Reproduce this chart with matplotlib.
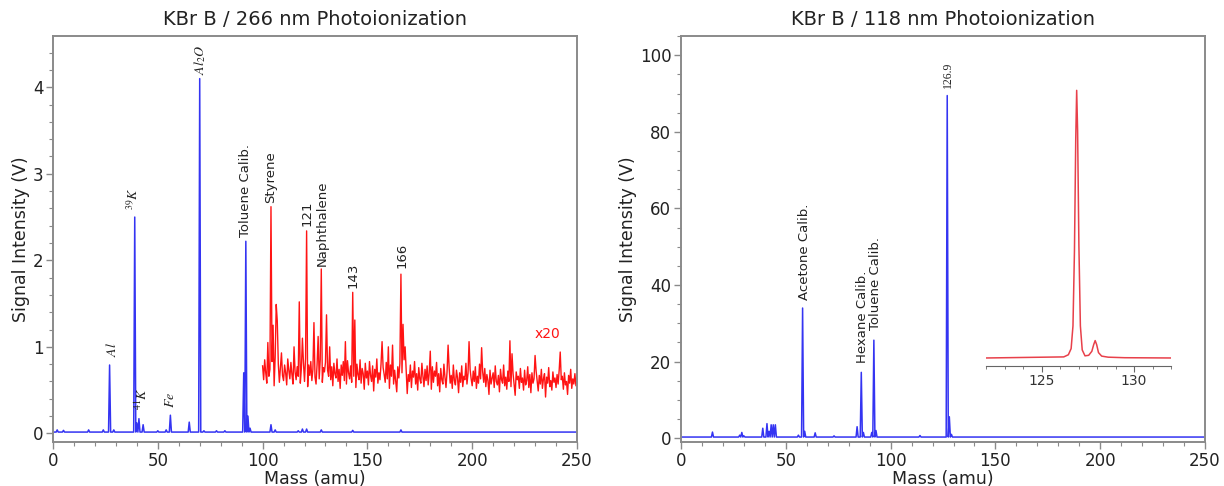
import matplotlib
matplotlib.use("Agg")
import matplotlib.pyplot as plt
import numpy as np
from matplotlib.ticker import MultipleLocator

plt.rcParams["mathtext.fontset"] = "stix"

BLUE = "#3434f2"
RED = "#ff1414"
INSET_RED = "#e8404a"
FRAME = "#8a8a8a"

# ---- 266 nm spectrum (left) ----
mass_step = 0.5
left_baseline = 0.015
left_peak_mass = [2, 5, 17, 24, 27, 29, 39, 40, 41, 43, 50, 54, 56, 65, 70, 72,
                  78, 82, 91, 92, 93, 94, 104, 106, 117, 119, 121, 128, 143, 166]
left_peak_height = [0.04, 0.035, 0.04, 0.04, 0.79, 0.04, 2.50, 0.12, 0.17, 0.10,
                    0.03, 0.04, 0.21, 0.13, 4.10, 0.03, 0.03, 0.03, 0.70, 2.22,
                    0.20, 0.06, 0.10, 0.04, 0.03, 0.05, 0.05, 0.04, 0.035, 0.04]

# x20 trace, already scaled and offset (display units), 100-250 amu every 0.5
x20_start = 100.0
x20_noise = [
    0.78, 0.62, 0.85, 0.70, 0.58, 0.91, 0.66, 0.74, 0.60, 0.83, 0.69, 0.55, 0.88, 0.72, 0.64, 0.80, 0.59, 0.76, 0.93, 0.67,
    0.61, 0.79, 0.70, 0.56, 0.86, 0.73, 0.63, 0.82, 0.68, 0.57, 0.90, 0.71, 0.62, 0.77, 0.66, 0.84, 0.58, 0.75, 0.69, 0.81,
    0.60, 0.87, 0.72, 0.54, 0.79, 0.67, 0.83, 0.61, 0.74, 0.89, 0.65, 0.57, 0.80, 0.70, 0.63, 0.85, 0.68, 0.59, 0.76, 0.71,
    0.82, 0.58, 0.73, 0.66, 0.88, 0.62, 0.77, 0.55, 0.81, 0.69, 0.64, 0.86, 0.60, 0.74, 0.52, 0.79, 0.67, 0.83, 0.61, 0.72,
    0.57, 0.84, 0.70, 0.63, 0.78, 0.59, 0.87, 0.66, 0.74, 0.53, 0.80, 0.68, 0.62, 0.85, 0.58, 0.75, 0.69, 0.51, 0.81, 0.64,
    0.72, 0.56, 0.83, 0.67, 0.60, 0.78, 0.49, 0.74, 0.65, 0.86, 0.58, 0.70, 0.62, 0.80, 0.54, 0.76, 0.68, 0.59, 0.82, 0.63,
    0.71, 0.52, 0.79, 0.66, 0.84, 0.57, 0.73, 0.61, 0.48, 0.77, 0.64, 0.81, 0.55, 0.70, 0.62, 0.85, 0.58, 0.74, 0.46, 0.68,
    0.60, 0.79, 0.53, 0.72, 0.65, 0.83, 0.57, 0.69, 0.50, 0.76, 0.63, 0.58, 0.81, 0.66, 0.54, 0.74, 0.61, 0.78, 0.56, 0.70,
    0.64, 0.51, 0.77, 0.59, 0.72, 0.66, 0.82, 0.55, 0.69, 0.48, 0.75, 0.62, 0.57, 0.80, 0.65, 0.53, 0.71, 0.60, 0.76, 0.58,
    0.67, 0.52, 0.79, 0.61, 0.56, 0.73, 0.64, 0.47, 0.70, 0.59, 0.78, 0.54, 0.66, 0.62, 0.81, 0.57, 0.69, 0.50, 0.74, 0.63,
    0.55, 0.72, 0.60, 0.77, 0.52, 0.66, 0.58, 0.80, 0.63, 0.49, 0.71, 0.59, 0.75, 0.54, 0.68, 0.61, 0.45, 0.73, 0.57, 0.64,
    0.70, 0.53, 0.78, 0.60, 0.56, 0.67, 0.48, 0.74, 0.62, 0.58, 0.79, 0.55, 0.65, 0.51, 0.72, 0.60, 0.76, 0.54, 0.63, 0.69,
    0.57, 0.44, 0.71, 0.62, 0.66, 0.52, 0.75, 0.59, 0.64, 0.50, 0.73, 0.56, 0.61, 0.77, 0.53, 0.68, 0.47, 0.70, 0.58, 0.63,
    0.55, 0.72, 0.60, 0.49, 0.67, 0.57, 0.74, 0.52, 0.63, 0.69, 0.42, 0.65, 0.58, 0.76, 0.54, 0.61, 0.50, 0.71, 0.59, 0.64,
    0.53, 0.68, 0.57, 0.73, 0.48, 0.62, 0.66, 0.51, 0.70, 0.56, 0.60, 0.45, 0.67, 0.58, 0.74, 0.52, 0.63, 0.57, 0.69, 0.55,
    0.60,
]
x20_peak_mass = [102.5, 104, 105, 106.5, 107, 115, 117.5, 119, 121, 124.5, 126.5,
                 128, 130.5, 132, 139.5, 143, 144, 157, 160, 162, 166, 167, 168,
                 180, 188.5, 198.5, 204.5, 218, 219, 230, 242]
x20_peak_height = [1.05, 2.62, 1.25, 1.49, 1.30, 1.00, 1.52, 1.10, 2.34, 1.28, 1.12,
                   1.90, 1.37, 1.00, 1.06, 1.63, 1.31, 1.06, 1.00, 1.02, 1.84, 1.26,
                   1.00, 0.95, 1.02, 1.06, 0.99, 1.07, 0.92, 0.90, 0.94]

left_label_text = ["$Al$", "$^{39}K$", "$^{41}K$", "$Fe$", "$Al_2O$",
                   "Toluene Calib.", "Styrene", "121", "Naphthalene", "143", "166"]
left_label_mass = [28.0, 38.2, 42.3, 55.8, 70.1, 91.8, 104.0, 121.2, 128.3, 143.1, 166.5]
left_label_y = [0.88, 2.58, 0.27, 0.29, 4.14, 2.27, 2.66, 2.40, 1.94, 1.68, 1.91]

# ---- 118 nm spectrum (right) ----
right_baseline = 0.3
right_peak_mass = [15, 28, 29, 30, 39, 41, 42, 43, 44, 45, 56, 58, 59, 64, 73,
                   84, 86, 87, 91, 92, 93, 114, 126.9, 127.9, 129]
right_peak_height = [1.6, 0.8, 1.5, 0.6, 2.6, 3.8, 1.8, 3.5, 3.5, 3.5, 0.8, 34.0,
                     1.8, 1.4, 0.6, 3.0, 17.2, 1.5, 1.5, 25.6, 2.0, 0.7, 89.5,
                     5.6, 1.0]
right_label_text = ["Acetone Calib.", "Hexane Calib.", "Toluene Calib.", "126.9"]
right_label_mass = [58.7, 86.4, 92.6, 127.4]
right_label_y = [36.0, 19.6, 28.2, 91.6]

# inset: zoom on the 126.9 peak (relative intensity)
inset_mass = [122, 126.2, 126.45, 126.6, 126.7, 126.78, 126.85, 126.9, 126.95,
              127.02, 127.1, 127.2, 127.35, 127.55, 127.72, 127.82, 127.9,
              127.98, 128.08, 128.25, 128.6, 129.5, 132]
inset_signal = [0.0, 0.004, 0.012, 0.035, 0.12, 0.40, 0.82, 1.0, 0.85,
                0.42, 0.12, 0.03, 0.008, 0.01, 0.025, 0.05, 0.065,
                0.05, 0.02, 0.007, 0.003, 0.001, 0.0]


def spike_trace(start, stop, base, peak_mass, peak_height):
    x = np.arange(start, stop + mass_step / 2, mass_step)
    y = np.full(len(x), base, dtype=float)
    for m, h in zip(peak_mass, peak_height):
        y[int(round((m - start) / mass_step))] = h
    return x, y


def style_axes(ax):
    for sp in ax.spines.values():
        sp.set_color(FRAME)
        sp.set_linewidth(1.4)
    ax.tick_params(which="both", direction="out", color=FRAME, labelcolor="#222222",
                   labelsize=12, pad=2)
    ax.tick_params(which="major", length=5, width=1)
    ax.tick_params(which="minor", length=3, width=0.8)
    ax.xaxis.set_major_locator(MultipleLocator(50))
    ax.xaxis.set_minor_locator(MultipleLocator(10))
    ax.set_xlim(0, 250)
    ax.set_xlabel("Mass (amu)", fontsize=12.5, color="#222222", labelpad=0)
    ax.set_ylabel("Signal Intensity (V)", fontsize=12.5, color="#222222", labelpad=2)


fig = plt.figure(figsize=(12.24, 4.86), dpi=100)

# left panel
ax1 = fig.add_axes([0.0433, 0.0905, 0.4281, 0.835])
style_axes(ax1)
bx, by = spike_trace(0, 250, left_baseline, left_peak_mass, left_peak_height)
ax1.plot(bx, by, color=BLUE, lw=1.1)
rx = np.arange(len(x20_noise)) * mass_step + x20_start
ry = np.array(x20_noise)
for m, h in zip(x20_peak_mass, x20_peak_height):
    ry[int(round((m - x20_start) / mass_step))] = h
ax1.plot(rx, ry, color=RED, lw=1.0)
ax1.set_ylim(-0.10, 4.59)
ax1.yaxis.set_major_locator(MultipleLocator(1))
ax1.yaxis.set_minor_locator(MultipleLocator(0.2))
ax1.set_title("KBr B / 266 nm Photoionization", fontsize=14, color="#222222", pad=8)
for txt, m, yv in zip(left_label_text, left_label_mass, left_label_y):
    is_elem = txt.startswith("$")
    ax1.text(m, yv, txt, rotation=90, ha="center", va="bottom",
             fontsize=10 if is_elem else 9.5, color="#222222")
ax1.text(235.7, 1.15, "x20", color=RED, fontsize=10, ha="center", va="center")

# right panel
ax2 = fig.add_axes([0.5564, 0.0905, 0.4281, 0.835])
style_axes(ax2)
bx2, by2 = spike_trace(0, 250, right_baseline, right_peak_mass, right_peak_height)
ax2.plot(bx2, by2, color=BLUE, lw=1.1)
ax2.set_ylim(-1.0, 105)
ax2.yaxis.set_major_locator(MultipleLocator(20))
ax2.yaxis.set_minor_locator(MultipleLocator(5))
ax2.set_title("KBr B / 118 nm Photoionization", fontsize=14, color="#222222", pad=8)
for txt, m, yv in zip(right_label_text, right_label_mass, right_label_y):
    if txt == "126.9":
        ax2.text(m, yv, txt, rotation=90, ha="center", va="bottom", fontsize=8.5,
                 family="Liberation Serif", color="#222222")
    else:
        ax2.text(m, yv, txt, rotation=90, ha="center", va="bottom", fontsize=9.5,
                 color="#222222")

# inset
ax3 = fig.add_axes([0.8056, 0.2469, 0.1511, 0.5782])
ax3.patch.set_alpha(0)
ax3.plot(inset_mass, inset_signal, color=INSET_RED, lw=1.1)
ax3.set_xlim(122, 132)
ax3.set_ylim(-0.03, 1.02)
for side in ["top", "left", "right"]:
    ax3.spines[side].set_visible(False)
ax3.spines["bottom"].set_color("#666666")
ax3.set_yticks([])
ax3.xaxis.set_major_locator(MultipleLocator(5))
ax3.xaxis.set_minor_locator(MultipleLocator(1))
ax3.tick_params(which="both", direction="out", color="#666666", labelcolor="#333333",
                labelsize=10, pad=2)
ax3.tick_params(which="major", length=4)
ax3.tick_params(which="minor", length=2.5)

fig.savefig("out.png", dpi=100)
